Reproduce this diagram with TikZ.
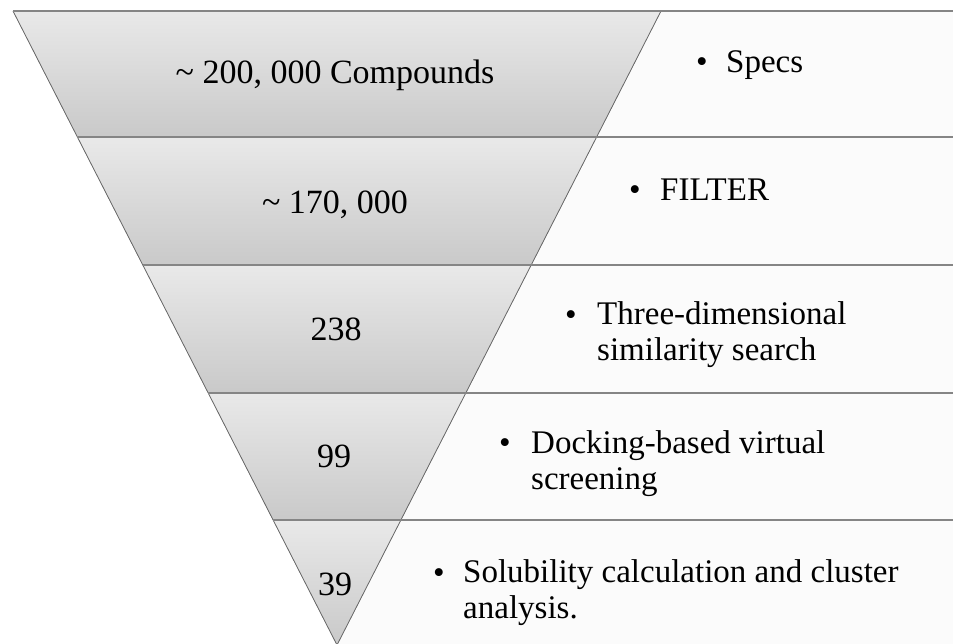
\documentclass[tikz,border=0pt]{standalone}
\usepackage{fontspec}
\setmainfont{Liberation Serif}
\usetikzlibrary{calc}

\definecolor{funtop}{HTML}{E9E9E9}
\definecolor{funbot}{HTML}{C9C9C9}
\definecolor{boxfill}{HTML}{FBFBFB}
\definecolor{sepline}{HTML}{858585}
\definecolor{edgeline}{HTML}{6A6A6A}

\begin{document}
\begin{tikzpicture}[x=1pt, y=-1pt,
    band/.style={top color=funtop, bottom color=funbot},
    stage/.style={fill=boxfill},
    sep/.style={draw=sepline, line width=1.4pt},
    edge/.style={draw=edgeline, line width=0.8pt},
    count/.style={anchor=base, inner sep=0pt, font=\fontsize{34}{36}\selectfont},
    dot/.style={anchor=base, inner sep=0pt, font=\fontsize{33}{36}\selectfont},
    stagetext/.style={anchor=base west, inner sep=0pt, align=left, font=\fontsize{33}{36}\selectfont}
]
\clip (0,0) rectangle (953,643);
\fill[white] (0,0) rectangle (953,643);

% funnel corners
\coordinate (tl) at (13,11);
\coordinate (tr) at (661,11);
\coordinate (ap) at (337,645);
\coordinate (w) at (953,0);

% band borders
\foreach \i/\f in {0/0, 1/0.19874, 2/0.40063, 3/0.60252, 4/0.80284, 5/1} {
  \coordinate (l\i) at ($(tl)!\f!(ap)$);
  \coordinate (r\i) at ($(tr)!\f!(ap)$);
  \coordinate (e\i) at (r\i -| w);
}

\foreach \i [evaluate=\i as \j using int(\i+1)] in {0,...,4} {
  \fill[stage] (r\i) -- (e\i) -- (e\j) -- (r\j) -- cycle;
  \fill[band] (l\i) -- (r\i) -- (r\j) -- (l\j) -- cycle;
}
\draw[edge] (tl) -- (ap) -- (tr);
\foreach \i in {0,...,4}
  \draw[sep] (l\i) -- (e\i);

% counts
\node[count] (c1) at (335,83) {\textasciitilde\ 200, 000 Compounds};
\node[count] (c2) at (335,213) {\textasciitilde\ 170, 000};
\node[count] (c3) at (336,340) {238};
\node[count] (c4) at (334,467) {99};
\node[count] (c5) at (335,595) {39};

% stages (base = last line)
\node[dot] (b1) at (702,72) {\textbullet};
\node[stagetext] (s1) at (726,72) {Specs};
\node[dot] (b2) at (635,200) {\textbullet};
\node[stagetext] (s2) at (660,200) {FILTER};
\node[dot] (b3) at (571,325) {\textbullet};
\node[stagetext] (s3) at (597,360) {Three-dimensional\\similarity search};
\node[dot] (b4) at (505,453) {\textbullet};
\node[stagetext] (s4) at (531,489) {Docking-based virtual\\screening};
\node[dot] (b5) at (439,583) {\textbullet};
\node[stagetext] (s5) at (463,618) {Solubility calculation and cluster\\analysis.};
\end{tikzpicture}
\end{document}
